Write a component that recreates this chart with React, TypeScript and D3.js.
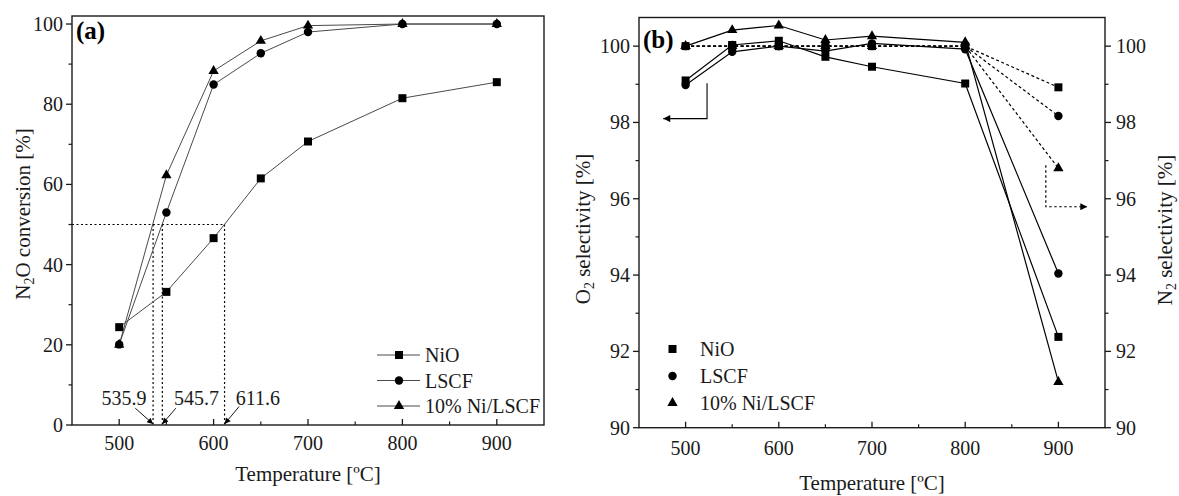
import React from "react";
import * as d3 from "d3";

// ---------- data ----------
const temps = [500, 550, 600, 650, 700, 800, 900];

// panel (a): N2O conversion [%]
const convNiO = [24.4, 33.2, 46.6, 61.5, 70.7, 81.5, 85.5];
const convLSCF = [20.1, 53.0, 84.9, 92.7, 98.0, 100, 100];
const convNiLSCF = [20.0, 62.3, 88.3, 95.8, 99.6, 100, 100];

// panel (b): O2 selectivity [%] (left axis, solid)
const o2NiO = [99.1, 100.03, 100.14, 99.72, 99.46, 99.02, 92.38];
const o2LSCF = [98.98, 99.85, 100.0, 99.87, 100.07, 99.92, 94.04];
const o2NiLSCF = [100.0, 100.42, 100.54, 100.16, 100.26, 100.1, 91.2];

// panel (b): N2 selectivity [%] (right axis, dashed)
const n2NiO = [100, 100, 100, 100, 100, 100, 98.92];
const n2LSCF = [100, 100, 100, 100, 100, 100, 98.17];
const n2NiLSCF = [100, 100, 100, 100, 100, 100, 96.8];

const seriesNames = ["NiO", "LSCF", "10% Ni/LSCF"];
const symbolKinds = ["square", "circle", "triangle"];

// tick labels
const xTicks = [500, 600, 700, 800, 900];
const xMinor = [550, 650, 750, 850];
const convTicks = [0, 20, 40, 60, 80, 100];
const convMinor = [10, 30, 50, 70, 90];
const selTicks = [90, 92, 94, 96, 98, 100];
const selMinor = [91, 93, 95, 97, 99];

// annotations (a): T50 temperatures
const t50 = [535.9, 545.7, 611.6];
const t50Labels = ["535.9", "545.7", "611.6"];
const t50LabelX = [505, 582, 647];
const t50ArrowStartX = [517, 560, 627];
const t50ArrowStartY = [4.2, 4.2, 4.6];
const halfConv = 50;

// annotations (b): axis pointer arrows (data coords)
const leftArrow = [
  [523, 99.03],
  [523, 98.1],
  [476, 98.1],
];
const rightArrow = [
  [886.5, 96.88],
  [886.5, 95.79],
  [931, 95.79],
];

// ---------- layout ----------
const W = 1179;
const H = 496;
const A = { left: 72, right: 544, top: 16, bottom: 425 };
const B = { left: 639, right: 1105, top: 17.5, bottom: 427.7 };
const FONT = "'Liberation Serif', 'Times New Roman', serif";
const INK = "#1a1a1a";

const symbolPath = (kind: string) => {
  if (kind === "square") return d3.symbol(d3.symbolSquare, 64)()!;
  if (kind === "circle") return d3.symbol(d3.symbolCircle, 56)()!;
  return d3.symbol(d3.symbolTriangle, 46)()!;
};

function Marker({ kind, x, y }: { kind: string; x: number; y: number }) {
  return <path d={symbolPath(kind)} transform={`translate(${x},${y})`} fill="#000" />;
}

export default function App() {
  const xa = d3.scaleLinear().domain([450, 950]).range([A.left, A.right]);
  const ya = d3.scaleLinear().domain([0, 102]).range([A.bottom, A.top]);
  const xb = d3.scaleLinear().domain([450, 950]).range([B.left, B.right]);
  const yb = d3.scaleLinear().domain([90, 100.75]).range([B.bottom, B.top]);

  const lineA = d3
    .line<number>()
    .x((_, i) => xa(temps[i]))
    .y((d) => ya(d));
  const lineB = d3
    .line<number>()
    .x((_, i) => xb(temps[i]))
    .y((d) => yb(d));
  const pathB = d3
    .line<number[]>()
    .x((d) => xb(d[0]))
    .y((d) => yb(d[1]));

  const convSeries = [convNiO, convLSCF, convNiLSCF];
  const o2Series = [o2NiO, o2LSCF, o2NiLSCF];
  const n2Series = [n2NiO, n2LSCF, n2NiLSCF];

  const majorLen = 6;
  const minorLen = 3.5;

  return (
    <svg
      width={W}
      height={H}
      viewBox={`0 0 ${W} ${H}`}
      style={{ position: "absolute", left: 0, top: 0, background: "#fff", fontFamily: FONT }}
    >
      <defs>
        <marker id="ah" viewBox="0 0 10 10" refX="10" refY="5" markerWidth="9" markerHeight="7" orient="auto" markerUnits="userSpaceOnUse">
          <path d="M0,0 L10,5 L0,10 z" fill="#000" />
        </marker>
        <marker id="ahs" viewBox="0 0 10 10" refX="10" refY="5" markerWidth="8" markerHeight="6" orient="auto" markerUnits="userSpaceOnUse">
          <path d="M0,0 L10,5 L0,10 z" fill="#000" />
        </marker>
      </defs>
      <rect x={0} y={0} width={W} height={H} fill="#fff" />

      {/* ================= Panel (a) ================= */}
      <g>
        <line
          x1={A.left}
          x2={xa(t50[2])}
          y1={ya(halfConv)}
          y2={ya(halfConv)}
          stroke="#000"
          strokeWidth={1.2}
          strokeDasharray="2,2.5"
        />
        {t50.map((t, i) => (
          <line
            key={"v" + i}
            x1={xa(t)}
            x2={xa(t)}
            y1={ya(halfConv)}
            y2={ya(0)}
            stroke="#000"
            strokeWidth={1.2}
            strokeDasharray="2,2.5"
          />
        ))}
        {convSeries.map((s, i) => (
          <path key={"la" + i} d={lineA(s)!} fill="none" stroke="#4a4a4a" strokeWidth={1} />
        ))}
        {convSeries.map((s, i) =>
          s.map((v, j) => <Marker key={`ma${i}-${j}`} kind={symbolKinds[i]} x={xa(temps[j])} y={ya(v)} />)
        )}
        {t50.map((t, i) => (
          <g key={"t50" + i}>
            <line
              x1={xa(t50ArrowStartX[i])}
              y1={ya(t50ArrowStartY[i])}
              x2={xa(t)}
              y2={ya(0) - 1}
              stroke="#000"
              strokeWidth={0.9}
              markerEnd="url(#ahs)"
            />
            <text x={xa(t50LabelX[i])} y={405} fontSize={20} textAnchor="middle" fill={INK}>
              {t50Labels[i]}
            </text>
          </g>
        ))}

        <rect
          x={A.left}
          y={A.top}
          width={A.right - A.left}
          height={A.bottom - A.top}
          fill="none"
          stroke={INK}
          strokeWidth={1.4}
        />
        {xTicks.map((t) => (
          <g key={"xa" + t}>
            <line x1={xa(t)} x2={xa(t)} y1={A.bottom} y2={A.bottom - majorLen} stroke={INK} strokeWidth={1.3} />
            <text x={xa(t)} y={450} fontSize={20} textAnchor="middle" fill={INK}>
              {t}
            </text>
          </g>
        ))}
        {xMinor.map((t) => (
          <line key={"xam" + t} x1={xa(t)} x2={xa(t)} y1={A.bottom} y2={A.bottom - minorLen} stroke={INK} strokeWidth={1.2} />
        ))}
        {convTicks.map((t) => (
          <g key={"ya" + t}>
            <line x1={A.left} x2={A.left - majorLen} y1={ya(t)} y2={ya(t)} stroke={INK} strokeWidth={1.3} />
            <text x={A.left - 9} y={ya(t)} dy="0.35em" fontSize={20} textAnchor="end" fill={INK}>
              {t}
            </text>
          </g>
        ))}
        {convMinor.map((t) => (
          <line key={"yam" + t} x1={A.left} x2={A.left - minorLen} y1={ya(t)} y2={ya(t)} stroke={INK} strokeWidth={1.2} />
        ))}
        <text x={(A.left + A.right) / 2} y={481} fontSize={21} textAnchor="middle" fill={INK}>
          Temperature [ºC]
        </text>
        <text transform={`translate(30,${214}) rotate(-90)`} fontSize={21} textAnchor="middle" fill={INK}>
          <tspan>N</tspan>
          <tspan fontSize={14} dy={4}>2</tspan>
          <tspan dy={-4}>O conversion [%]</tspan>
        </text>
        <text x={76} y={39} fontSize={25} fontWeight="bold" fill="#000">
          (a)
        </text>
        {seriesNames.map((n, i) => {
          const yy = 355 + i * 25.5;
          return (
            <g key={"lga" + i}>
              <line x1={377} x2={420} y1={yy} y2={yy} stroke="#4a4a4a" strokeWidth={1} />
              <Marker kind={symbolKinds[i]} x={399} y={yy} />
              <text x={425} y={yy} dy="0.35em" fontSize={20} fill={INK}>
                {n}
              </text>
            </g>
          );
        })}
      </g>

      {/* ================= Panel (b) ================= */}
      <g>
        {n2Series.map((s, i) => (
          <path key={"n2l" + i} d={lineB(s)!} fill="none" stroke="#000" strokeWidth={1.2} strokeDasharray="3,2.5" />
        ))}
        {o2Series.map((s, i) => (
          <path key={"o2l" + i} d={lineB(s)!} fill="none" stroke="#000" strokeWidth={1.2} />
        ))}
        {n2Series.map((s, i) =>
          s.map((v, j) => <Marker key={`mn${i}-${j}`} kind={symbolKinds[i]} x={xb(temps[j])} y={yb(v)} />)
        )}
        {o2Series.map((s, i) =>
          s.map((v, j) => <Marker key={`mo${i}-${j}`} kind={symbolKinds[i]} x={xb(temps[j])} y={yb(v)} />)
        )}
        <path d={pathB(leftArrow)!} fill="none" stroke="#000" strokeWidth={1.1} markerEnd="url(#ah)" />
        <path
          d={pathB(rightArrow)!}
          fill="none"
          stroke="#000"
          strokeWidth={1.2}
          strokeDasharray="2.5,2.5"
          markerEnd="url(#ah)"
        />

        <rect
          x={B.left}
          y={B.top}
          width={B.right - B.left}
          height={B.bottom - B.top}
          fill="none"
          stroke={INK}
          strokeWidth={1.4}
        />
        {xTicks.map((t) => (
          <g key={"xb" + t}>
            <line x1={xb(t)} x2={xb(t)} y1={B.bottom} y2={B.bottom - majorLen} stroke={INK} strokeWidth={1.3} />
            <text x={xb(t)} y={455} fontSize={20} textAnchor="middle" fill={INK}>
              {t}
            </text>
          </g>
        ))}
        {xMinor.map((t) => (
          <line key={"xbm" + t} x1={xb(t)} x2={xb(t)} y1={B.bottom} y2={B.bottom - minorLen} stroke={INK} strokeWidth={1.2} />
        ))}
        {selTicks.map((t) => (
          <g key={"yb" + t}>
            <line x1={B.left} x2={B.left - majorLen} y1={yb(t)} y2={yb(t)} stroke={INK} strokeWidth={1.3} />
            <text x={B.left - 9} y={yb(t)} dy="0.35em" fontSize={20} textAnchor="end" fill={INK}>
              {t}
            </text>
            <line x1={B.right} x2={B.right + majorLen} y1={yb(t)} y2={yb(t)} stroke={INK} strokeWidth={1.3} />
            <text x={B.right + 11} y={yb(t)} dy="0.35em" fontSize={20} textAnchor="start" fill={INK}>
              {t}
            </text>
          </g>
        ))}
        {selMinor.map((t) => (
          <g key={"ybm" + t}>
            <line x1={B.left} x2={B.left - minorLen} y1={yb(t)} y2={yb(t)} stroke={INK} strokeWidth={1.2} />
            <line x1={B.right} x2={B.right + minorLen} y1={yb(t)} y2={yb(t)} stroke={INK} strokeWidth={1.2} />
          </g>
        ))}
        <text x={(B.left + B.right) / 2} y={490} fontSize={21} textAnchor="middle" fill={INK}>
          Temperature [ºC]
        </text>
        <text transform={`translate(590,${229}) rotate(-90)`} fontSize={21} textAnchor="middle" fill={INK}>
          <tspan>O</tspan>
          <tspan fontSize={14} dy={4}>2</tspan>
          <tspan dy={-4}> selectivity [%]</tspan>
        </text>
        <text transform={`translate(1172,${230}) rotate(-90)`} fontSize={21} textAnchor="middle" fill={INK}>
          <tspan>N</tspan>
          <tspan fontSize={14} dy={4}>2</tspan>
          <tspan dy={-4}> selectivity [%]</tspan>
        </text>
        <text x={643} y={47.5} fontSize={25} fontWeight="bold" fill="#000">
          (b)
        </text>
        {seriesNames.map((n, i) => {
          const yy = 349 + i * 27;
          return (
            <g key={"lgb" + i}>
              <Marker kind={symbolKinds[i]} x={672.5} y={yy} />
              <text x={700} y={yy} dy="0.35em" fontSize={20} fill={INK}>
                {n}
              </text>
            </g>
          );
        })}
      </g>
    </svg>
  );
}
